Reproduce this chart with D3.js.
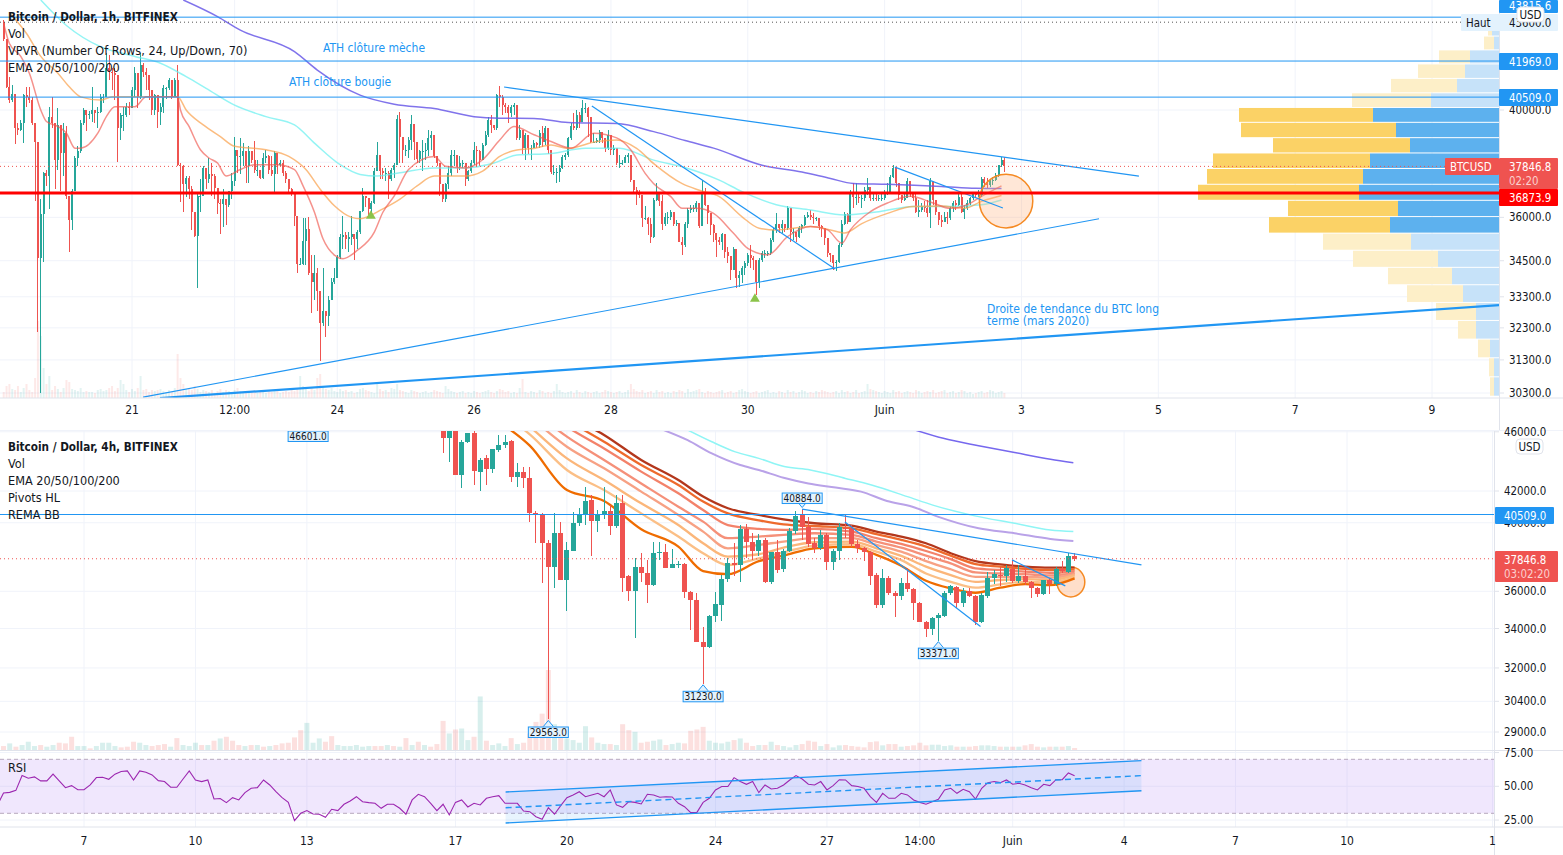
<!DOCTYPE html>
<html lang="fr">
<head>
<meta charset="UTF-8">
<title>Bitcoin / Dollar</title>
<script src="https://d3js.org/d3.v7.min.js"></script>
<style>
  body { margin: 0; background: #fff; overflow: hidden; }
  text { font-family: "DejaVu Sans Condensed", "DejaVu Sans", sans-serif; }
</style>
</head>
<body>
<svg id="chart" width="1563" height="855"></svg>
<script>
// ---- 1h chart : [high, low, close], each bar opens on the previous close
const firstOpen1h = 43620;
const rows1h = [
[43700,42810,42870],[42870,40860,40900],[41330,40260,40390],[40990,40330,40650],[40650,38700,39290],[39480,39040,39230],[39610,39170,39480],[40650,38720,40590],[40920,40120,40520],[40920,40260,40390],
[40520,39420,39480],[39480,36590,38780],[38780,32160,34590],[36650,30290,36120],[37650,34460,37610],[37730,37130,37490],[40130,36300,39740],[40520,39290,39480],[39480,37010,38100],[40060,37730,39420],
[39420,36950,38350],[39480,37490,39100],[39360,36650,36770],[36770,34810,35890],[37010,35540,36950],[38220,36950,38160],[38600,37850,38410],[39610,38350,39480],[40060,39420,40000],[40000,39170,39800],
[39950,39650,39850],[40920,39550,40000],[40000,39480,39870],[40130,39290,39930],[40650,39870,40520],[40650,40260,40520],[42300,40520,41670],[42230,41200,41530],[41670,40790,41470],[41670,40390,41400],[41400,38000,39290],
[39870,38840,39800],[40130,39170,39800],[40260,39740,40130],[40320,39800,40060],[40920,40130,40790],[41740,40520,41470],[41470,40060,40520],[42300,40450,41810],[41880,41330,41530],[41670,40790,41400],
[41400,40390,40790],[40790,39800,40000],[40650,39800,40590],[40590,39290,39930],[40260,39420,40130],[40990,39870,40860],[40920,40450,40860],[41270,40790,41200],[41200,40450,40520],[41270,40520,41200],
[41810,37850,37910],[37970,36530,37850],[37910,36180,37190],[37490,36710,37430],[37490,36650,37010],[37130,35540,36180],[36180,35310,35340],[36890,33590,36770],[37370,36180,36770],[37850,36770,37790],
[37790,37010,37370],[38160,37250,37550],[37970,36770,37490],[37550,36650,37070],[37070,36120,36500],[36650,35420,36470],[37010,35660,36650],[36650,35720,36430],[36950,36360,36950],[37610,36650,37310],
[38970,37130,38470],[38470,37610,38220],[38910,37550,38220],[38720,37850,38410],[38410,37250,37850],[38600,37250,38410],[38410,37970,38100],[38790,37610,37730],[38100,37490,37730],[37730,37370,37430],
[38350,37370,38160],[38470,37970,38220],[38290,37550,37730],[38220,37490,37550],[38410,36890,38350],[38350,37550,37910],[38100,37850,37970],[38100,37490,37610],[37670,37250,37370],[37310,36830,37010],
[37070,36770,36830],[36830,35710,36060],[36060,34090,34400],[34580,34350,34400],[35960,34350,35190],[35960,34350,35600],[36000,34020,34080],[34690,32780,33800],[34690,33210,34080],[34240,32840,33480],
[33480,31280,32440],[34240,32360,32840],[32840,32000,32680],[33310,32360,33210],[33910,33210,33780],[34240,33720,33910],[34690,33960,34630],[35420,34570,35310],[36060,34910,35370],[35480,34910,35250],
[35480,34800,35310],[36060,35020,35420],[35420,34520,35250],[35540,34910,35480],[36240,35420,36240],[37070,36180,36770],[36770,36360,36680],[36680,36060,36300],[36590,36180,36500],[37790,36470,37670],
[38780,37670,38290],[38290,37370,37670],[37790,37370,37610],[37790,37310,37610],[37670,36650,37370],[37790,37310,37730],[37970,37430,37910],[39800,37910,39640],[39930,37970,38970],[38970,37970,38470],
[38660,38220,38470],[38970,38160,38840],[39800,38470,39450],[39450,38100,38780],[38780,37970,38130],[38470,37970,38410],[38840,37670,38410],[38720,38100,38470],[39230,38220,38910],[39170,38470,39040],
[39040,38160,38220],[38220,37850,37970],[37970,36770,37190],[37190,36530,36650],[37250,36530,37190],[37850,37010,37610],[38470,37490,38290],[38470,37850,38290],[38290,37610,37850],[38220,37730,37970],
[38100,37790,37970],[37970,37130,37370],[37730,37310,37670],[38100,37610,37970],[38780,37910,38470],[38600,37850,38410],[38470,37850,38100],[38720,38100,38660],[39170,38600,39040],[39740,38970,39610],
[39800,39100,39420],[39420,39230,39290],[40650,39230,40590],[40950,40130,40520],[40590,39800,40190],[40260,39870,40130],[40190,39480,39870],[40190,39740,40130],[40260,39800,40190],[40190,38840,38910],
[39430,38840,39230],[39230,38320,38520],[39100,38070,39040],[39040,38320,38520],[38650,38070,38520],[38840,38520,38710],[38780,38520,38650],[39230,38520,39100],[39370,38580,38770],[39370,38650,39300],
[39300,38320,38450],[38450,37570,37630],[37880,37510,37630],[37780,37220,37630],[37880,37280,37780],[38270,37760,38210],[38330,38080,38270],[38970,38210,38910],[39490,38840,39370],[39870,39230,39300],
[40010,39230,39800],[39940,39300,39540],[40410,39670,40070],[40270,39870,40070],[40100,38970,39740],[39740,38710,38770],[39100,38710,38770],[38910,38710,38840],[39230,38710,39160],[39160,38710,38910],
[38910,38400,38520],[39230,38460,39040],[39040,38270,38460],[38650,38270,38520],[38520,37890,37990],[38270,37770,37990],[38080,37880,37990],[38270,37960,38210],[38330,37960,38270],[38270,37280,37340],
[37340,36860,36980],[37100,36440,36920],[36980,36680,36800],[36800,35670,35960],[36390,35900,35960],[36020,35380,35780],[35960,35110,35330],[36690,35270,36630],[37250,36570,36920],[36920,36390,36570],
[36800,35560,35780],[36140,35680,36020],[36200,35780,36020],[36260,35900,36200],[36200,35680,35780],[35910,35680,35810],[35780,35150,35150],[35330,34690,35040],[35850,34980,35780],[36320,35630,36260],
[36450,36140,36320],[36450,36200,36320],[36570,36200,36510],[36510,35620,35700],[37340,35680,36870],[37040,36390,36450],[36450,35780,36140],[36140,35380,35720],[35780,35150,35450],[35450,34640,35210],
[35330,35040,35150],[35450,34870,35430],[35390,34580,34780],[34980,34420,34650],[34650,33850,34190],[34960,34190,34900],[34900,33580,33910],[34140,33630,34020],[34310,33740,34250],[34480,34020,34420],
[34760,34310,34700],[35040,34250,34580],[34650,34190,34530],[34530,33350,33800],[34580,33580,34530],[34820,34470,34760],[34870,34580,34760],[34840,34650,34760],[35270,34700,35210],[35620,35150,35560],
[36140,35450,35780],[35780,35450,35620],[35900,35450,35780],[35780,35500,35620],[36410,35560,36320],[36320,35150,35470],[35620,35210,35470],[35500,35150,35330],[35680,35270,35620],[35780,35450,35720],
[36080,35680,36020],[36200,35960,36080],[36260,35900,36020],[36140,35780,35960],[36010,35870,35990],[35960,35560,35680],[35720,35330,35620],[35620,35040,35270],[35270,34640,34760],[34760,34470,34700],
[34700,34190,34420],[34530,34140,34440],[35100,34420,35040],[35900,34980,35780],[36200,35720,36110],[36140,35780,35850],[36980,35850,36860],[37220,36320,36740],[37220,36450,36740],[36860,36510,36690],
[36800,36320,36690],[37100,36570,36980],[37400,36800,37100],[37100,36570,36690],[36860,36570,36690],[36860,36570,36650],[36800,36600,36690],[36920,36600,36690],[36980,36630,36920],[37220,36800,36920],
[37530,36860,37460],[37890,37400,37790],[37790,37100,37220],[37220,36630,36800],[36800,36510,36630],[36860,36570,36690],[37400,36690,37290],[37290,36740,36920],[36920,36570,36690],[36860,36140,36200],
[36630,36020,36260],[36510,36200,36390],[36570,36200,36320],[36630,36020,36140],[37400,35620,37290],[36980,36450,36630],[36630,36080,36200],[36200,35720,35900],[36080,35670,35840],[36200,35900,36020],
[36200,35780,35960],[36390,35900,36320],[36570,36200,36510],[36630,36260,36450],[36860,36390,36740],[36860,36140,36200],[36450,35930,36320],[36630,36260,36510],[36740,36450,36690],[36920,36630,36860],
[36920,36690,36800],[36980,36740,36800],[37470,36740,37370],[37470,37100,37220],[37400,37040,37160],[37350,37100,37290],[37470,37160,37350],[37590,37290,37530],[37900,37470,37880],[38210,37820,38080],
[38180,37640,37846.8]
];
const volumes1h = [
6,12,14,9,8,12,6,10,14,8,6,20,77,62,30,14,22,8,12,9,6,10,18,16,9,8,7,10,6,7,6,6,5,8,9,7,8,10,12,7,10,18,14,8,6,9,7,10,22,8,9,
6,8,7,8,9,7,6,8,6,10,44,20,14,9,10,8,12,9,6,8,7,6,8,5,7,9,6,8,7,6,8,10,7,6,5,7,6,8,5,6,7,5,8,6,7,9,5,6,7,6,
8,7,10,22,12,9,7,10,8,20,24,12,9,8,10,7,6,9,7,8,6,7,5,6,9,10,8,7,6,5,14,9,7,8,6,10,9,14,8,7,6,5,8,7,6,5,6,7,5,6,
8,7,6,5,12,9,7,6,5,6,7,5,6,5,7,6,5,6,7,8,6,5,7,9,8,6,7,5,6,5,10,19,6,5,7,6,5,8,7,5,6,5,7,14,8,6,5,6,7,5,
8,6,5,7,6,5,6,7,5,6,8,7,6,5,6,7,5,6,8,14,9,7,6,8,5,6,7,5,8,6,7,5,6,5,7,6,8,7,5,9,6,7,8,9,6,5,7,6,5,6,
7,8,5,6,7,5,6,8,9,7,6,5,6,7,5,6,7,8,5,6,5,7,6,5,8,6,7,5,6,8,7,5,6,5,7,6,8,7,6,5,6,7,5,8,6,7,5,6,8,5,
6,7,14,9,8,7,6,5,7,6,5,8,6,7,5,6,7,6,5,8,7,5,6,7,6,8,5,6,7,8,5,6,7,5,6,8,7,5,6,4,5,6,7,5,6,8,7,5,6,7,5
];
// [bar, price] vertices read along each average
const ema20_1h = [[0,43540],[2,42700],[6,42160],[9,41470],[13,40000],[15,39550],[19,39360],[22,39100],[25,38530],[27,38530],[33,39100],[36,39740],[39,40130],[46,40130],[50,40520],[61,40520],[62,40000],[65,39360],[69,38470],[72,38160],[75,37970],[78,37490],[83,37730],[88,37910],[96,37910],[102,37730],[105,37130],[109,36180],[112,35250],[116,34690],[119,34570],[124,34850],[130,35480],[133,36180],[137,36770],[142,37730],[151,38220],[155,37850],[162,37790],[168,38100],[174,38840],[179,39360],[186,39040],[192,38780],[199,38530],[207,39100],[215,38920],[220,38460],[225,37590],[228,37210],[234,36740],[238,36320],[243,36320],[249,36140],[256,35440],[261,34920],[268,34700],[275,35330],[283,35680],[289,35560],[294,35100],[297,35560],[304,36200],[310,36510],[318,36750],[326,36510],[332,36320],[338,36450],[343,36750],[350,37130]];
const ema50_1h = [[2,43990],[8,43120],[13,42160],[19,41470],[23,40920],[27,40520],[34,40390],[38,40520],[48,40520],[61,40520],[64,40000],[70,39420],[76,38970],[81,38600],[92,38470],[100,38220],[106,37730],[111,37010],[116,36410],[122,36000],[125,35950],[133,36300],[139,36650],[145,37130],[151,37490],[162,37490],[168,37670],[174,38220],[180,38460],[186,38520],[192,38650],[198,38520],[208,38780],[215,38840],[222,38520],[228,37950],[238,37210],[244,36970],[251,36740],[259,36020],[265,35620],[271,35560],[283,35680],[290,35560],[295,35450],[301,35780],[310,36140],[319,36390],[329,36400],[337,36320],[343,36570],[350,36780]];
const ema100_1h = [[13,44560],[22,43460],[34,42560],[46,42160],[55,41880],[64,41330],[71,40860],[81,40190],[92,39740],[102,39420],[109,38720],[118,37910],[125,37550],[131,37490],[139,37610],[151,37790],[162,37790],[172,37970],[180,38270],[192,38330],[204,38530],[216,38530],[228,38080],[240,37770],[251,37340],[259,36920],[271,36450],[283,36260],[295,36080],[307,36200],[319,36390],[331,36390],[343,36450],[350,36620]];
const ema200_1h = [[63,44560],[75,43840],[83,43260],[102,42360],[110,41600],[125,40590],[137,40230],[151,40060],[165,39740],[174,39680],[186,39670],[198,39510],[215,39470],[228,39160],[239,38820],[249,38530],[266,37890],[280,37640],[290,37400],[298,37220],[310,37190],[329,37110],[341,37040],[350,37030]];
const markers1h = [[128.8,36050],[263.5,33230]];
const trendLines1h = [
  {from:[175.5,40912], to:[398.2,37490], width:1.2},
  {from:[48.9,30180],  to:[384.2,35950], width:1.2},
  {from:[54.8,30150],  to:[524.5,33030], width:2.2},
  {from:[206.3,40157], to:[291.6,34220], width:1.2},
  {from:[312.6,37820], to:[350.5,36330], width:1.2}
];
const tickBars1h = [45,81,117,165,213,261,309,357,405,453,501];
const tickLabels1h = ["21","12:00","24","26","28","30","Juin","3","5","7","9"];
const priceTicks1h = [40000,38000,36000,34500,33300,32300,31300,30300];
const levels1h = [43815.6,41969,40509];

// volume profile, top row first
const vpEdges = [43570,42990,42410,41830,41240,40660,40080,39500,38910,38330,37750,37170,36590,36010,35430,34840,34260,33680,33100,32520,31930,31350,30770,30190];
const vpUp   = [70,50,290,340,420,680,1260,1030,890,1290,1360,1400,1010,1090,880,610,470,360,230,230,90,50,50];
const vpDown = [40,100,310,470,660,790,1340,1550,1370,1570,1560,1610,1100,1210,880,850,640,560,400,180,120,50,40];
const vpValueArea = [6,13];

// ---- 4h chart : [open, high, low, close], first candle on bar 58
const firstBar4h = 58;
const rows4h = [
[46130,46500,44500,45540],[45540,46500,43940,46130],[46130,46500,43050,43050],[43050,45400,42200,45300],[45300,45900,45200,45900],[45890,46300,42390,43290],[43270,44200,41980,44040],[44160,44400,42390,43460],[43460,44800,43150,44780],[44710,45800,44600,45050],
[45050,45800,44900,45300],[45350,45400,42600,42930],[42930,43830,42280,43270],[43270,43600,42170,42870],[42820,43600,40070,40580],[40580,40700,38760,40480],[40520,40580,36450,38760],[38760,38980,29563,37390],[37390,40580,36200,39360],[39360,40070,36630,36630],
[36630,38860,34900,38360],[38300,40690,38300,39960],[39960,40890,39800,40520],[40480,42280,39860,41360],[41420,41740,37980,40110],[40110,40790,39460,40520],[40520,42280,40210,40730],[40730,41100,39250,39820],[39820,41740,39700,41210],[41210,41740,35980,36770],
[36830,36900,35490,36040],[36040,37870,33500,37350],[37350,38170,36540,37010],[37010,37770,35340,36350],[36350,38860,36300,38170],[38170,38860,37770,38270],[38270,38700,37290,37330],[37330,38420,37290,37530],[37530,37700,37290,37550],[37530,37600,35620,35980],
[35980,36000,33920,35520],[35520,35890,33320,33320],[33320,34100,31230,33070],[33070,34700,33020,34680],[34680,35980,34350,35290],[35250,36920,34390,36680],[36680,37870,36540,37620],[37620,38760,36830,37490],[37490,39860,36540,39620],[39620,39900,37870,38820],
[38820,39360,37770,38300],[38300,39300,38000,38960],[38960,39100,36450,36540],[36540,38270,36390,38270],[38270,38960,37000,37200],[37250,38440,37100,38300],[38300,39660,38270,39500],[39500,40730,39300,40440],[40480,40884,38960,39760],[39760,40330,38560,38700],
[38760,39060,38170,38460],[38460,39570,38360,39250],[39250,39400,37170,37640],[37640,38400,37200,38300],[38300,39960,37770,39760],[39700,40480,39060,39620],[39660,39860,38560,38720],[38720,38960,38170,38460],[38500,38560,37700,38230],[38230,38300,36350,36880],
[36920,37000,35070,35250],[35250,37270,35100,36720],[36770,36830,35790,35890],[35890,36000,34620,35740],[35740,36720,35530,36450],[36450,37330,35980,36130],[36130,36200,34450,35340],[35340,35430,34360,34360],[34360,34400,33550,33980],[33980,34600,33660,34540],
[34540,34800,33371,34720],[34680,36000,34600,35890],[35890,36350,35800,36280],[36240,36300,35070,35380],[35380,36200,35160,36020],[36020,36170,35700,35740],[35740,35800,34190,34360],[34360,35890,34300,35800],[35760,37060,35620,36770],[36770,37200,36390,36960],
[36920,37390,36300,36830],[36830,37490,36500,37310],[37270,37770,36450,36570],[36570,37490,36450,36830],[36830,37390,36350,36500],[36540,36600,35620,36180],[36180,36250,35660,35840],[35840,36650,35800,36630],[36630,36750,35840,36390],[36390,37390,36300,37270],
[37270,37700,37000,37150],[37110,38170,37000,38000],[38000,38170,37700,37846.8]
];
// signed until the first candle (negative = down bar)
const firstVolBar4h = -13;
const volumes4h = [
-12,20,-10,15,25,12,-15,10,15,-22,-20,-40,12,12,-5,12,22,22,12,-8,-10,-25,22,15,-12,-15,-18,10,-36,15,12,22,-15,15,-28,35,-40,-28,-15,12,-15,15,-10,12,-15,-20,-22,-38,-60,82,22,35,-25,-42,15,12,12,15,10,12,-12,-12,15,-12,10,-36,15,-25,15,-10,-18,
88,50,62,65,30,40,162,28,15,20,12,36,18,22,50,85,110,242,78,42,35,30,22,72,38,22,18,18,15,78,60,55,22,25,28,32,15,18,22,20,58,62,70,28,22,20,25,30,35,22,12,
15,15,25,15,12,8,15,18,28,25,12,18,8,14,15,12,10,8,24,26,14,18,18,10,12,14,22,14,16,16,12,14,10,10,10,12,14,14,12,10,10,10,10,14,18,10,8,10,10,10,12,6
];
const remaBars = [66,72,78,84,90,96,100,104,109,113,118,124,128,132,136,140,144,148,152,156,160];
const rema1 = [47000,45030,42060,41360,39600,38560,37140,36960,37710,38030,38460,38540,38070,37440,36590,36160,35920,36200,36400,36340,36720];
const rema2 = [47800,45820,43380,42060,40580,39160,38170,37480,37870,38220,38620,38700,38260,37770,37000,36530,36200,36380,36530,36490,36810];
const rema3 = [48500,46360,44160,42710,41210,39860,38760,37970,38110,38500,38820,38860,38460,38010,37390,36910,36530,36630,36680,36630,36910];
const rema4 = [49300,47080,44960,43490,41960,40480,39460,38460,38660,38860,39060,39060,38660,38260,37710,37240,36810,36810,36810,36760,36960];
const rema5 = [50000,47690,45660,44050,42490,41000,40070,39060,39160,39260,39360,39260,38860,38500,38030,37580,37060,37000,36960,36890,37040];
const rema6 = [50600,48310,46360,44840,43270,41850,40790,39860,39620,39560,39620,39460,39060,38720,38300,37830,37290,37200,37100,37040,37140];
const rema7 = [50900,48550,46840,45300,43710,42390,41320,40580,40150,39900,39800,39660,39300,38960,38560,38030,37540,37390,37270,37200,37240];
const rema8 = [51400,48930,47200,45780,44050,42710,41640,40900,40480,40210,39970,39820,39460,39160,38760,38170,37710,37520,37390,37330,37330];
const lilac4h = [[93.6,46130],[97.5,45410],[101.4,44500],[106,43710],[109,43380],[113,42860],[117,42490],[121.4,42220],[125.5,41960],[129.7,41360],[133.8,41000],[137.9,40380],[144.5,39660],[150.3,39360],[156.1,39020],[159.8,38900]];
const cyan4h = [[97.5,46130],[101.4,45300],[105.2,44600],[109,44160],[113.1,43610],[117.3,43380],[123,42820],[127.2,42390],[133,41640],[137.1,41100],[143.7,40440],[150.3,39970],[156.1,39560],[159.8,39460]];
const purple4h = [[134.2,46130],[138.8,45540],[144.5,45030],[150.3,44560],[156.1,44100],[159.8,43860]];
const trendLines4h = [
  {from:[116,40850],  to:[170.8,37490]},
  {from:[122.9,40050],to:[144.8,34100]},
  {from:[149.9,37780],to:[158.5,36300]}
];
// [text, bar, price]; the box goes above or below the tip
const pivotsHigh = [["46601.0",36.2,46601],["40884.0",116,40884]];
const pivotsLow = [["33371.0",138,33371],["31230.0",100,31230],["29563.0",75,29563]];
const tickBars4h = [0,18,36,60,78,102,120,135,150,168,186,204,227.5];
const tickLabels4h = ["7","10","13","17","20","24","27","14:00","Juin","4","7","10","1"];
const priceTicks4h = [46000,42000,40000,36000,34000,32000,30400,29000];

// ---- RSI, last value on bar 160
const rsiValues = [
40,36,45,45.5,47,58,56,57,54,54,59,54,49,50.5,47.5,47.5,51,56.5,56.7,55.2,59,61,61.4,54.7,61.4,60.4,58.4,54.2,53.5,49.3,49.3,55.4,61.4,54.7,53.5,54.7,40.6,41,37.9,41.6,39.9,45.3,48.5,49,54.7,51,46,41.6,38.1,24.6,30,32,29.5,29.3,27,33,32,36.7,39.1,42.3,38.6,37.9,37.4,33.7,36.7,36.7,33.7,29.3,39.9,44.1,42.3,37.4,32,36.7,28.8,38.1,39.9,34.7,37.4,36.2,41.1,42.3,43.1,37.4,37.4,37.4,31.7,31.2,27.5,25.6,34.2,29.3,35.7,41.6,43.6,46,42.3,43.6,44.8,42.3,47.3,36.2,34.4,38.6,38.1,36.9,44.1,43.6,41.9,42.3,42.1,37.4,34.9,30.5,30.7,38.1,41.1,47.3,49.8,49.8,56.4,53.5,51.5,53.5,45.3,51,48,
48.5,51,54.7,57.9,55.4,51.5,51,53.5,47.3,50.5,54.9,54.7,50.5,49.8,48.5,42.3,38.1,44.8,41.1,41.1,44.8,43.6,39.9,38.1,36.7,38.6,40.4,47.3,48.5,44.8,47.8,46,40.6,48.5,52.7,53.5,52.7,54.7,51.5,52.2,51,49,47.3,51.5,50.5,54.9,54.9,59.9,57.9
];
const rsiLastBar = 160;
const channelUpper = [[68.1,45.8],[170.8,69]];
const channelMiddle = [[68.1,34.1],[170.8,57.9]];
const channelLower = [[68.1,22.8],[170.8,46.7]];
const rsiTicks = [75,50,25];

const legend1h = ["Vol","VPVR (Number Of Rows, 24, Up/Down, 70)","EMA 20/50/100/200"];
const legend4h = ["Vol","EMA 20/50/100/200","Pivots HL","REMA BB"];

const UP = "#26a69a", DOWN = "#ef5350", BLUE = "#2196f3", GRID = "#f0f3fa", BORDER = "#e0e3eb", INK = "#131722";

const svg = d3.select("#chart");
const defs = svg.append("defs");
function clip(id, x, y, w, h) {
  defs.append("clipPath").attr("id", id).append("rect").attr("x", x).attr("y", y).attr("width", w).attr("height", h);
  return svg.append("g").attr("clip-path", `url(#${id})`);
}

// scales
const xTop = d3.scaleLinear().domain([45, 501]).range([132, 1432]);
const yTop = d3.scaleLog().domain([30300, 40000]).range([393, 110]);
const xBot = d3.scaleLinear().domain([0, 204]).range([84, 1347]);
const yBot = d3.scaleLog().domain([29000, 42000]).range([732, 491]);
const yRsi = d3.scaleLinear().domain([30, 70]).range([813.3, 759.3]);
const vpWidth = d3.scaleLinear().domain([0, 3010]).range([0, 301]);
const volTop = d3.scaleLinear().domain([0, 77]).range([0, 77]);
const volBot = d3.scaleLinear().domain([0, 242]).range([0, 80]);

function hLine(g, y, x1, x2, color, width, dash) {
  g.append("line").attr("x1", x1).attr("x2", x2).attr("y1", y).attr("y2", y)
    .attr("stroke", color).attr("stroke-width", width).attr("stroke-dasharray", dash || null);
}
function gridLines(g, xs, ys, x2, y1, y2) {
  xs.forEach(x => g.append("line").attr("x1", x).attr("x2", x).attr("y1", y1).attr("y2", y2).attr("stroke", GRID));
  ys.forEach(y => hLine(g, y, 0, x2, GRID, 1));
}
function candles(g, data, x, y, bodyWidth) {
  const bars = g.append("g").attr("shape-rendering", "crispEdges").selectAll("g").data(data).join("g")
    .attr("fill", d => d.c >= d.o ? UP : DOWN).attr("stroke", d => d.c >= d.o ? UP : DOWN);
  bars.append("line").attr("x1", d => x(d.b)).attr("x2", d => x(d.b))
    .attr("y1", d => y(Math.max(d.h, d.o, d.c))).attr("y2", d => y(Math.min(d.l, d.o, d.c))).attr("stroke-width", 1);
  bars.append("rect").attr("stroke", "none").attr("x", d => x(d.b) - bodyWidth / 2).attr("width", bodyWidth)
    .attr("y", d => y(Math.max(d.o, d.c))).attr("height", d => Math.max(1, Math.abs(y(d.o) - y(d.c))));
}
function curve(g, pts, x, y, color, width, opacity) {
  g.append("path").attr("fill", "none").attr("stroke", color).attr("stroke-width", width).attr("stroke-opacity", opacity || 1)
    .attr("d", d3.line().x(d => x(d[0])).y(d => y(d[1])).curve(d3.curveMonotoneX)(pts));
}
function segment(g, line, x, y, width, dash) {
  g.append("line").attr("x1", x(line.from[0])).attr("y1", y(line.from[1])).attr("x2", x(line.to[0])).attr("y2", y(line.to[1]))
    .attr("stroke", BLUE).attr("stroke-width", width).attr("stroke-dasharray", dash || null);
}
function label(x, y, text, size, color, anchor, weight) {
  return svg.append("text").attr("x", x).attr("y", y).attr("dy", "0.36em").attr("font-size", size).attr("fill", color)
    .attr("text-anchor", anchor || "start").attr("font-weight", weight || null).text(text);
}
function priceBox(x, w, boxTop, h, fill) {
  svg.append("rect").attr("x", x).attr("y", boxTop).attr("width", w).attr("height", h).attr("rx", 1).attr("fill", fill);
}
function usdBadge(x, y) {
  svg.append("rect").attr("x", x).attr("y", y).attr("width", 27).attr("height", 15).attr("rx", 4).attr("fill", "#fff").attr("stroke", BORDER);
  label(x + 13.5, y + 7.5, "USD", 11.5, INK, "middle");
}

// ---- 1h panel
const candles1h = rows1h.map((r, i) => ({ b: i, o: i ? rows1h[i - 1][2] : firstOpen1h, h: r[0], l: r[1], c: r[2] }));
const topG = clip("clipTop", 0, 0, 1499, 398);
gridLines(topG, tickBars1h.map(xTop), priceTicks1h.map(yTop), 1499, 0, 398);

vpUp.forEach((up, i) => {
  const solid = i >= vpValueArea[0] && i <= vpValueArea[1];
  const y0 = yTop(vpEdges[i]), y1 = yTop(vpEdges[i + 1]) - 1;
  topG.append("rect").attr("x", 1499 - vpWidth(up)).attr("width", vpWidth(up)).attr("y", y0).attr("height", y1 - y0)
    .attr("fill", solid ? "#5db1ee" : "#c6e2f9");
  topG.append("rect").attr("x", 1499 - vpWidth(up) - vpWidth(vpDown[i])).attr("width", vpWidth(vpDown[i])).attr("y", y0).attr("height", y1 - y0)
    .attr("fill", solid ? "#fbd266" : "#fdefc8");
});

topG.append("g").selectAll("rect").data(candles1h).join("rect")
  .attr("x", d => xTop(d.b) - 1).attr("width", 2)
  .attr("y", (d, i) => 398 - volTop(volumes1h[i] || 0)).attr("height", (d, i) => volTop(volumes1h[i] || 0))
  .attr("fill", d => d.c >= d.o ? UP : DOWN).attr("opacity", 0.13);

candles(topG, candles1h, xTop, yTop, 2);
curve(topG, ema200_1h, xTop, yTop, "#6a5ae8", 1.5, 0.85);
curve(topG, ema100_1h, xTop, yTop, "#66f0f0", 1.5, 0.7);
curve(topG, ema50_1h, xTop, yTop, "#f9a04a", 1.5, 0.7);
curve(topG, ema20_1h, xTop, yTop, "#f0584e", 1.5, 0.65);

topG.append("ellipse").attr("cx", xTop(351.6)).attr("cy", yTop(36580))
  .attr("rx", xTop(9.37) - xTop(0)).attr("ry", (yTop(35630) - yTop(37560)) / 2)
  .attr("fill", "#ffb07a").attr("fill-opacity", 0.3).attr("stroke", "#f58a23").attr("stroke-width", 1.5);

topG.selectAll("path.mark").data(markers1h).join("path").attr("class", "mark")
  .attr("d", d3.symbol(d3.symbolTriangle, 42))
  .attr("transform", d => `translate(${xTop(d[0])},${yTop(d[1])})`).attr("fill", "#8bc34a");

trendLines1h.forEach(l => segment(topG, l, xTop, yTop, l.width));
levels1h.forEach(p => hLine(topG, yTop(p), 0, 1499, BLUE, 1));
hLine(topG, yTop(43600), 0, 1461, "#555", 1, "1 3");
hLine(topG, yTop(37846.8), 0, 1445, "#ef5350", 1, "1 3");
hLine(topG, yTop(36873.9), 0, 1499, "#ff0000", 3);

// ---- 4h panel
const candles4h = rows4h.map((r, i) => ({ b: firstBar4h + i, o: r[0], h: r[1], l: r[2], c: r[3] }));
const mainG = clip("clipMain", 0, 431, 1494, 319);
gridLines(mainG, tickBars4h.map(xBot), priceTicks4h.map(yBot), 1494, 431, 750);

mainG.append("g").selectAll("rect").data(volumes4h).join("rect")
  .attr("x", (d, i) => xBot(firstVolBar4h + i) - 2.5).attr("width", 5)
  .attr("y", d => 750 - volBot(Math.abs(d))).attr("height", d => volBot(Math.abs(d)))
  .attr("fill", (d, i) => {
    const c = candles4h[firstVolBar4h + i - firstBar4h];
    const rising = c ? c.c >= c.o : d > 0;
    return rising ? UP : DOWN;
  }).attr("opacity", 0.18);

mainG.append("ellipse").attr("cx", xBot(159.4)).attr("cy", yBot(36520))
  .attr("rx", xBot(2.25) - xBot(0)).attr("ry", (yBot(35690) - yBot(37370)) / 2)
  .attr("fill", "#ffb07a").attr("fill-opacity", 0.4).attr("stroke", "#f58a23").attr("stroke-width", 1.5);

const remaLines = [
  [rema8, "#b3371c"], [rema7, "#ee6a2c"], [rema6, "#f3826a"], [rema5, "#f59079"],
  [rema4, "#f7a184"], [rema3, "#fbb67a"], [rema2, "#fbbf86"], [rema1, "#ef6c00"]
];
remaLines.forEach(([vals, color]) => curve(mainG, remaBars.map((b, i) => [b, vals[i]]), xBot, yBot, color, 2.3));
curve(mainG, lilac4h, xBot, yBot, "#b9a2e8", 2);
curve(mainG, cyan4h, xBot, yBot, "#8ff5f5", 1.5);
curve(mainG, purple4h, xBot, yBot, "#7668ee", 1.5);

candles(mainG, candles4h, xBot, yBot, 5);

trendLines4h.forEach(l => segment(mainG, l, xBot, yBot, 1.2));
hLine(mainG, yBot(40509), 0, 1494, BLUE, 1.2);
hLine(mainG, yBot(37846.8), 0, 1494, "#ef5350", 1, "1 3");

// pivots labels
function pivot(d, above) {
  const x = xBot(d[1]), tip = yBot(d[2]) - (above ? 1 : -1);
  const dir = above ? -1 : 1;
  const boxY = above ? Math.max(431, tip - 14.5) : tip + 6.5;
  if (d[2] < 46000) {
    svg.append("path").attr("d", `M${x - 5},${tip + dir * 6}L${x},${tip}L${x + 5},${tip + dir * 6}`)
      .attr("fill", "#e3f2fd").attr("stroke", BLUE);
  }
  svg.append("rect").attr("x", x - 20).attr("y", boxY).attr("width", 40).attr("height", 10.5)
    .attr("fill", "#e3f2fd").attr("stroke", BLUE);
  label(x, boxY + 5.2, d[0], 10, INK, "middle");
}
pivotsHigh.forEach(d => pivot(d, true));
pivotsLow.forEach(d => pivot(d, false));

// ---- RSI panel
const rsiG = clip("clipRsi", 0, 751, 1494, 76);
gridLines(rsiG, tickBars4h.map(xBot), rsiTicks.map(yRsi), 1494, 751, 827);
rsiG.append("rect").attr("x", 0).attr("width", 1494).attr("y", yRsi(70)).attr("height", yRsi(30) - yRsi(70)).attr("fill", "#b388f5").attr("opacity", 0.2);
hLine(rsiG, yRsi(70), 0, 1494, "#b7a8bd", 1, "4 3");
hLine(rsiG, yRsi(30), 0, 1494, "#b7a8bd", 1, "4 3");
rsiG.append("path").attr("fill", BLUE).attr("opacity", 0.1)
  .attr("d", `M${channelUpper.map(p => [xBot(p[0]), yRsi(p[1])]).join("L")}L${channelLower.slice().reverse().map(p => [xBot(p[0]), yRsi(p[1])]).join("L")}Z`);
const rsiLine = d3.line().x((d, i) => xBot(rsiLastBar - (rsiValues.length - 1 - i))).y(d => yRsi(d));
rsiG.append("path").attr("fill", "none").attr("stroke", "#9c27b0").attr("stroke-width", 1.1).attr("d", rsiLine(rsiValues));
segment(rsiG, { from: channelUpper[0], to: channelUpper[1] }, xBot, yRsi, 1.4);
segment(rsiG, { from: channelLower[0], to: channelLower[1] }, xBot, yRsi, 1.4);
segment(rsiG, { from: channelMiddle[0], to: channelMiddle[1] }, xBot, yRsi, 1.4, "6 4");

// ---- frames
hLine(svg, 398, 0, 1563, BORDER, 1);
hLine(svg, 430.5, 0, 1563, GRID, 1);
hLine(svg, 750.5, 0, 1563, BORDER, 1);
hLine(svg, 827, 0, 1563, BORDER, 1);
svg.append("line").attr("x1", 1499.5).attr("x2", 1499.5).attr("y1", 0).attr("y2", 430).attr("stroke", BORDER);
svg.append("line").attr("x1", 1494.5).attr("x2", 1494.5).attr("y1", 431).attr("y2", 855).attr("stroke", BORDER);

// ---- time axes
tickBars1h.forEach((b, i) => label(xTop(b), 410, tickLabels1h[i], 12, INK, "middle"));
tickBars4h.forEach((b, i) => label(xBot(b), 841, tickLabels4h[i], 12, INK, "middle"));

// ---- price axes
const AXIS_FONT = 11.4;
priceTicks1h.filter(p => p !== 38000).forEach(p => {
  hLine(svg, yTop(p), 1499, 1504, BORDER, 1);
  label(1509, yTop(p), d3.format(".1f")(p), AXIS_FONT, INK);
});
priceTicks4h.forEach(p => {
  hLine(svg, yBot(p), 1494, 1499, BORDER, 1);
  label(1504, yBot(p), d3.format(".1f")(p), AXIS_FONT, INK);
});
rsiTicks.forEach(p => {
  hLine(svg, yRsi(p), 1494, 1499, BORDER, 1);
  label(1504, yRsi(p), d3.format(".2f")(p), AXIS_FONT, INK);
});

// ---- value tags, 1h
priceBox(1499, 59, 0, 13, BLUE);
label(1509, 6, "43815.6", AXIS_FONT, "#fff");
priceBox(1461, 97, 14, 17, "#e3f2fd");
label(1466, 22.5, "Haut", AXIS_FONT, INK);
label(1509, 22.5, "43600.0", AXIS_FONT, INK);
usdBadge(1517, 7);
priceBox(1499, 59, 53, 17, BLUE);
label(1509, 61.5, "41969.0", AXIS_FONT, "#fff");
priceBox(1499, 59, 89, 17, BLUE);
label(1509, 97.5, "40509.0", AXIS_FONT, "#fff");
priceBox(1445, 54, 158, 17, DOWN);
label(1450, 166.5, "BTCUSD", AXIS_FONT, "#fff");
priceBox(1499, 59, 158, 31, DOWN);
label(1509, 166.5, "37846.8", AXIS_FONT, "#fff");
label(1509, 181, "02:20", AXIS_FONT, "#fbd0ce");
priceBox(1499, 59, 189, 17, "#ff0000");
label(1509, 197.5, "36873.9", AXIS_FONT, "#fff");

// ---- value tags, 4h
usdBadge(1516, 439);
priceBox(1495, 59, 507, 17, BLUE);
label(1504, 516, "40509.0", AXIS_FONT, "#fff");
priceBox(1495, 63, 551, 31, DOWN);
label(1504, 559.5, "37846.8", AXIS_FONT, "#fff");
label(1504, 574, "03:02:20", AXIS_FONT, "#fbd0ce");

// ---- notes
label(323, 47.5, "ATH clôture mèche", 12, BLUE);
label(289, 81.5, "ATH clôture bougie", 12, BLUE);
label(987, 309, "Droite de tendance du BTC long", 12, BLUE);
label(987, 320.5, "terme (mars 2020)", 12, BLUE);

// ---- legends
label(8, 16.5, "Bitcoin / Dollar, 1h, BITFINEX", 11.65, INK, "start", 700);
legend1h.forEach((t, i) => label(8, 33.5 + i * 17, t, 12.6, INK));
label(8, 446.5, "Bitcoin / Dollar, 4h, BITFINEX", 11.65, INK, "start", 700);
legend4h.forEach((t, i) => label(8, 463.5 + i * 17, t, 12.6, INK));
label(8, 767, "RSI", 12.6, INK);
</script>
</body>
</html>
